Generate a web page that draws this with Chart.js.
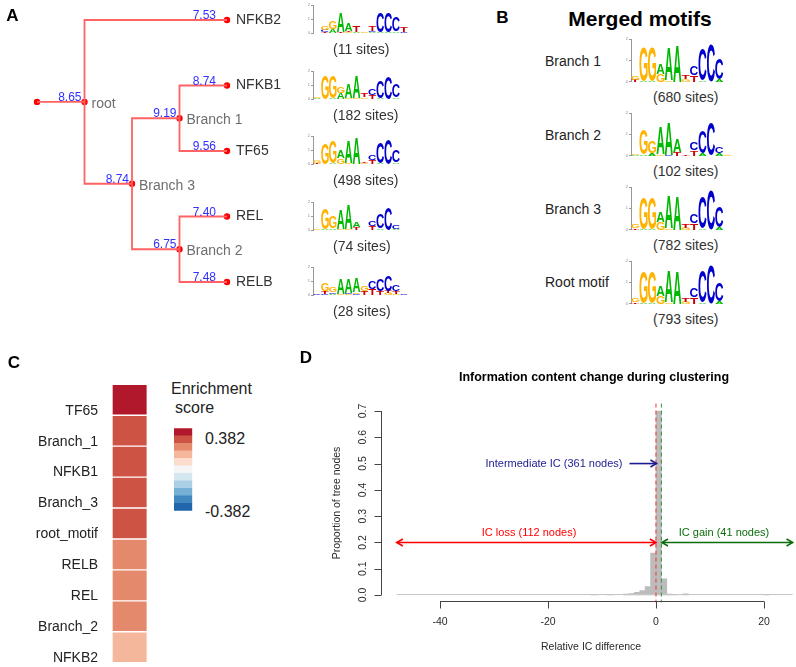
<!DOCTYPE html>
<html lang="en">
<head>
<meta charset="UTF-8">
<title>Motif clustering</title>
<script src="https://cdn.jsdelivr.net/npm/chart.js"></script>
<style>
    body { margin: 0; background: #fff; }
    #fig {
        position: relative;
        width: 796px;
        height: 667px;
        overflow: hidden;
        background: #fff;
        font-family: "Liberation Sans", Arial, sans-serif;
    }
    #fig canvas { position: absolute; }
    .txt {
        position: absolute;
        white-space: nowrap;
        line-height: 1;
        color: #222;
    }
</style>
</head>
<body>
<div id="fig"></div>

<script>
    // ---- data ----
    // A: motif tree
    var treeNodes  = ['origin', 'root', 'Branch 3', 'Branch 1', 'Branch 2', 'NFKB2', 'NFKB1', 'TF65', 'REL', 'RELB'];
    var treeParent = [-1, 0, 1, 2, 2, 1, 3, 3, 4, 4];
    var treeIC     = [null, 8.65, 8.74, 9.19, 6.75, 7.53, 8.74, 9.56, 7.40, 7.48];
    var leafOrder  = ['NFKB2', 'NFKB1', 'TF65', 'REL', 'RELB'];
    var leafSites  = [11, 182, 498, 74, 28];

    // sequence logos, bits per base at positions 1..12
    var logoNFKB2 = [{G:0.03}, {G:0.3, C:0.15, T:0.07}, {G:0.6, A:0.3}, {A:1.35, T:0.08}, {A:0.55, T:0.1, G:0.05}, {T:0.5, A:0.1},
                     {G:0.04}, {T:0.35, C:0.12, A:0.05}, {C:1.4, A:0.06}, {C:1.4, A:0.06}, {C:1.0, A:0.12}, {T:0.35, C:0.1}];
    var logoNFKB1 = [{G:0.12, A:0.05}, {G:1.65}, {G:1.55, A:0.06}, {G:0.5, A:0.45}, {A:1.05, G:0.1}, {A:1.6, G:0.08},
                     {T:0.3, G:0.12}, {C:0.42, T:0.3}, {C:1.25, A:0.05}, {C:1.6}, {C:0.95, A:0.1}, {G:0.03}];
    var logoTF65  = [{G:0.18, T:0.04}, {G:1.5}, {G:1.55, A:0.04}, {A:0.55, G:0.4}, {A:1.6, G:0.05}, {A:1.85},
                     {T:0.08, G:0.06}, {C:0.4, T:0.28}, {C:1.45, A:0.06}, {C:1.8}, {C:0.8, A:0.12}, {G:0.03}];
    var logoREL   = [{G:0.04}, {G:1.45, A:0.04}, {G:0.8, A:0.12}, {A:1.4, G:0.05}, {A:1.75, G:0.04}, {A:0.4, T:0.18},
                     {T:0.03}, {C:0.32, T:0.25}, {C:1.05, A:0.1}, {C:1.62}, {C:0.28, A:0.1}, {G:0.03}];
    var logoRELB  = [{C:0.04}, {G:0.55, T:0.2, C:0.1}, {G:0.4, C:0.1, A:0.1}, {A:1.1, G:0.1}, {A:1.05, C:0.1, G:0.05}, {A:1.0, C:0.1, G:0.1},
                     {G:0.35, T:0.3}, {C:0.6, T:0.45}, {C:0.85, T:0.3}, {C:1.1, T:0.15, G:0.15}, {C:0.5, T:0.2, G:0.1}, {C:0.1}];
    var leafLogos = [logoNFKB2, logoNFKB1, logoTF65, logoREL, logoRELB];

    // B: merged motifs
    var logoBranch1 = [{G:0.2, T:0.1}, {G:1.58, A:0.03}, {G:1.58, A:0.03}, {A:0.5, G:0.38}, {A:1.52, G:0.06}, {A:1.72},
                       {T:0.15, G:0.12}, {C:0.42, T:0.3}, {C:1.5, A:0.06}, {C:1.72}, {C:0.95, A:0.12}, {G:0.02}];
    var logoBranch2 = [{A:0.03, G:0.03}, {G:1.15, A:0.05}, {G:0.55, A:0.1}, {A:1.3, G:0.08}, {A:1.52, C:0.05}, {A:0.6, T:0.15},
                       {T:0.03}, {C:0.38, T:0.25}, {C:1.05, A:0.1}, {C:1.55}, {C:0.3, A:0.12}, {G:0.03}];
    var logoBranch3 = [{G:0.18, T:0.08}, {G:1.48, A:0.03}, {G:1.48, A:0.03}, {A:0.48, G:0.38}, {A:1.5, G:0.06}, {A:1.6},
                       {T:0.15, G:0.1}, {C:0.4, T:0.3}, {C:1.48, A:0.06}, {C:1.82}, {C:0.95, A:0.12}, {G:0.02}];
    var logoRoot    = [{G:0.18, T:0.08}, {G:1.48, A:0.03}, {G:1.48, A:0.03}, {A:0.48, G:0.38}, {A:1.48, G:0.06}, {A:1.54},
                       {T:0.15, G:0.1}, {C:0.4, T:0.3}, {C:1.45, A:0.06}, {C:1.78}, {C:0.88, A:0.12}, {G:0.02}];
    var mergedNames = ['Branch 1', 'Branch 2', 'Branch 3', 'Root motif'];
    var mergedSites = [680, 102, 782, 793];
    var mergedLogos = [logoBranch1, logoBranch2, logoBranch3, logoRoot];

    // C: enrichment heatmap
    var heatRows   = ['TF65', 'Branch_1', 'NFKB1', 'Branch_3', 'root_motif', 'RELB', 'REL', 'Branch_2', 'NFKB2'];
    var heatScores = [0.382, 0.30, 0.29, 0.28, 0.27, 0.22, 0.21, 0.20, 0.15];
    var heatLimit  = 0.382;
    var heatPalette = ['#b2182b', '#cd5344', '#e5896d', '#f5b79b', '#fbdccd', '#f5f5f5',
                       '#d5e7f1', '#abd0e5', '#76b1d5', '#3f89c0', '#2166ac'];

    // D: histogram of relative IC difference (bin centres, proportion of nodes)
    var histMids  = [-11.5, -8.5, -5.5, -4.5, -3.5, -2.5, -1.5, -0.5, 0.5, 1.5, 2.5, 3.5, 5.5, 20.5];
    var histProps = [0.002, 0.003, 0.004, 0.006, 0.010, 0.017, 0.032, 0.160, 0.700, 0.062, 0.004, 0.002, 0.005, 0.002];
    var histRange = [-48, 25.3];
    var icCutoffs = [0, 1];
    var icGroups  = ['IC loss (112 nodes)', 'Intermediate IC (361 nodes)', 'IC gain (41 nodes)'];
    var xTicks = [-40, -20, 0, 20];
    var yTicks = [0, 0.1, 0.2, 0.3, 0.4, 0.5, 0.6, 0.7];

    // ---- helpers ----
    var FONT = '"Liberation Sans", Arial, sans-serif';
    Chart.defaults.font.family = FONT;
    Chart.defaults.animation = false;
    Chart.defaults.plugins.legend.display = false;
    Chart.defaults.plugins.tooltip.enabled = false;

    var fig = document.getElementById('fig');

    function addCanvas(left, top, w, h) {
        var c = document.createElement('canvas');
        c.width = w;
        c.height = h;
        c.style.left = left + 'px';
        c.style.top = top + 'px';
        c.style.width = w + 'px';
        c.style.height = h + 'px';
        fig.appendChild(c);
        return c;
    }

    // x,y is the left edge / vertical centre, or the centre when centred
    function addText(text, x, y, size, css, centred) {
        var d = document.createElement('div');
        d.className = 'txt';
        d.textContent = text;
        d.style.left = x + 'px';
        d.style.top = y + 'px';
        d.style.fontSize = size + 'px';
        d.style.transform = centred ? 'translate(-50%,-50%)' : 'translate(0,-50%)';
        if (css) d.style.cssText += css;
        fig.appendChild(d);
        return d;
    }

    function font(size, bold) {
        return (bold ? 'bold ' : '') + size + 'px ' + FONT;
    }

    // keep a vertical axis from reserving room for half-labels
    function fixWidth(w) {
        return function (s) {
            s.width = w;
            s.paddingTop = 0;
            s.paddingBottom = 0;
        };
    }

    // ---- sequence logos ----
    var bases = ['A', 'C', 'G', 'T'];
    var baseColors = {A: '#00b800', C: '#0000cc', G: '#ffb300', T: '#cc0000'};
    var glyphCache = {};

    function glyphBox(ctx, ch) {
        if (!glyphCache[ch]) {
            ctx.save();
            ctx.font = font(100, true);
            var m = ctx.measureText(ch);
            glyphCache[ch] = {
                left: m.actualBoundingBoxLeft, w: m.actualBoundingBoxLeft + m.actualBoundingBoxRight,
                asc: m.actualBoundingBoxAscent, h: m.actualBoundingBoxAscent + m.actualBoundingBoxDescent
            };
            ctx.restore();
        }
        return glyphCache[ch];
    }

    function drawGlyph(ctx, ch, x, y, w, h, color) {
        if (h < 0.4) return;
        var g = glyphBox(ctx, ch);
        ctx.save();
        ctx.translate(x, y);
        ctx.scale(w / g.w, h / g.h);
        ctx.font = font(100, true);
        ctx.fillStyle = color;
        ctx.textBaseline = 'alphabetic';
        ctx.fillText(ch, g.left, g.asc);
        ctx.restore();
    }

    var logoLetters = {
        id: 'logoLetters',
        afterDatasetsDraw: function (chart) {
            var ctx = chart.ctx, y = chart.scales.y;
            var bars = chart.getDatasetMeta(0).data;
            for (var i = 0; i < chart.data.labels.length; i++) {
                var stack = bases.map(function (b, k) { return {b: b, h: chart.data.datasets[k].data[i]}; })
                    .filter(function (s) { return s.h > 0; })
                    .sort(function (p, q) { return p.h - q.h; });
                var w = bars[i].width, left = bars[i].x - w / 2, cum = 0;
                stack.forEach(function (s) {
                    var yb = y.getPixelForValue(cum), yt = y.getPixelForValue(cum + s.h);
                    drawGlyph(ctx, s.b, left, yt, w, yb - yt, baseColors[s.b]);
                    cum += s.h;
                });
            }
        }
    };

    function createLogo(canvas, columns, axisWidth, pad) {
        return new Chart(canvas, {
            type: 'bar',
            data: {
                labels: columns.map(function (c, i) { return String(i + 1); }),
                datasets: bases.map(function (b) {
                    return {
                        label: b,
                        data: columns.map(function (c) { return c[b] || 0; }),
                        backgroundColor: 'rgba(0,0,0,0)',
                        barPercentage: 0.96,
                        categoryPercentage: 1
                    };
                })
            },
            options: {
                responsive: false,
                devicePixelRatio: 1,
                layout: {padding: pad},
                scales: {
                    x: {stacked: true, display: false},
                    y: {
                        stacked: true, min: 0, max: 2,
                        afterFit: fixWidth(axisWidth),
                        ticks: {stepSize: 1, padding: 1, color: '#888', font: {size: 4}},
                        grid: {drawOnChartArea: false, tickLength: 2, color: '#999'},
                        border: {color: '#999'}
                    }
                }
            },
            plugins: [logoLetters]
        });
    }

    // ---- A: tree ----
    var nNodes = treeNodes.length;
    var children = treeNodes.map(function () { return []; });
    treeParent.forEach(function (p, i) { if (p >= 0) children[p].push(i); });
    var depth = treeParent.map(function () { return 0; });
    for (var i = 1; i < nNodes; i++) depth[i] = depth[treeParent[i]] + 1;
    var maxDepth = Math.max.apply(null, depth);
    function nodeRow(i) {
        if (!children[i].length) return leafOrder.indexOf(treeNodes[i]);
        var rows = children[i].map(nodeRow);
        return rows.reduce(function (a, b) { return a + b; }, 0) / rows.length;
    }
    var nodeX = treeNodes.map(function (n, i) { return children[i].length ? depth[i] : maxDepth; });
    var nodeY = treeNodes.map(function (n, i) { return nodeRow(i); });

    var edgeSets = [];
    for (var i = 1; i < nNodes; i++) {
        var p = treeParent[i];
        edgeSets.push({
            data: [{x: nodeX[p], y: nodeY[p]}, {x: nodeX[p], y: nodeY[i]}, {x: nodeX[i], y: nodeY[i]}],
            showLine: true, borderColor: '#ff6262', borderWidth: 1.8, pointRadius: 0, clip: false
        });
    }
    edgeSets.push({
        data: treeNodes.map(function (n, i) { return {x: nodeX[i], y: nodeY[i]}; }),
        pointRadius: 3.2, pointBackgroundColor: '#ff0000', pointBorderWidth: 0, clip: false
    });

    var treeLabels = {
        id: 'treeLabels',
        afterDatasetsDraw: function (chart) {
            var ctx = chart.ctx, sx = chart.scales.x, sy = chart.scales.y;
            ctx.save();
            for (var i = 1; i < nNodes; i++) {
                var leaf = !children[i].length;
                var px = sx.getPixelForValue(nodeX[i]), py = sy.getPixelForValue(nodeY[i]);
                ctx.font = font(14);
                ctx.textBaseline = 'middle';
                ctx.textAlign = 'left';
                ctx.fillStyle = leaf ? '#333' : '#6e6e6e';
                ctx.fillText(treeNodes[i], px + (leaf ? 9 : 7), py + (leaf ? 0 : 2));
                ctx.font = font(12);
                ctx.textAlign = 'right';
                ctx.textBaseline = 'alphabetic';
                ctx.fillStyle = '#3030ff';
                ctx.fillText(treeIC[i].toFixed(2), px - (leaf ? 11 : 3), py - 1);
            }
            ctx.restore();
        }
    };

    new Chart(addCanvas(0, 0, 300, 320), {
        type: 'scatter',
        data: {datasets: edgeSets},
        options: {
            responsive: false,
            devicePixelRatio: 1,
            layout: {padding: {left: 37, right: 73, top: 20, bottom: 38}},
            scales: {
                x: {display: false, min: 0, max: maxDepth},
                y: {display: false, min: 0, max: leafOrder.length - 1, reverse: true}
            }
        },
        plugins: [treeLabels]
    });

    // logos next to the leaves
    leafOrder.forEach(function (name, k) {
        var top = Math.round(65.5 * k);
        createLogo(addCanvas(298, top, 114, 36), leafLogos[k], 15, {top: 5, bottom: 3, right: 4, left: 0});
        addText('(' + leafSites[k] + ' sites)', 333, 49 + 65.5 * k, 14, 'color:#333');
    });

    // ---- B: merged motifs ----
    addText('Merged motifs', 640, 18, 21, 'font-weight:bold;color:#000', true);
    var mergedZero = [82, 156, 230, 303.5];
    mergedNames.forEach(function (name, k) {
        var top = Math.round(mergedZero[k] - 47.7);
        createLogo(addCanvas(613, top, 122, 50), mergedLogos[k], 18, {top: 5, bottom: 2.3, right: 3, left: 0});
        addText(name, 545, mergedZero[k] - 21.5, 14, 'color:#222');
        addText('(' + mergedSites[k] + ' sites)', 653, mergedZero[k] + 15, 14, 'color:#333');
    });

    // ---- C: enrichment heatmap ----
    var bandWidth = 2 * heatLimit / heatPalette.length;
    function scoreColor(v) {
        var k = Math.floor((heatLimit - v) / bandWidth + 1e-9);
        return heatPalette[Math.max(0, Math.min(heatPalette.length - 1, k))];
    }

    new Chart(addCanvas(0, 370, 160, 297), {
        type: 'bar',
        data: {
            labels: heatRows,
            datasets: [{
                data: heatRows.map(function () { return 1; }),
                backgroundColor: heatScores.map(scoreColor),
                borderColor: 'rgba(255,255,255,0.45)',
                borderWidth: 1,
                borderSkipped: false,
                barPercentage: 1,
                categoryPercentage: 1
            }]
        },
        options: {
            indexAxis: 'y',
            responsive: false,
            devicePixelRatio: 1,
            layout: {padding: {top: 14.3, bottom: 4.3, right: 12.7, left: 0}},
            scales: {
                x: {display: false, min: 0, max: 1},
                y: {
                    afterFit: fixWidth(112),
                    grid: {display: false, drawTicks: false},
                    border: {display: false},
                    ticks: {padding: 14, labelOffset: 11, color: '#222', font: {size: 14}}
                }
            }
        }
    });

    // colour key
    new Chart(addCanvas(165, 420, 40, 100), {
        type: 'bar',
        data: {
            labels: ['score'],
            datasets: heatPalette.slice().reverse().map(function (c) {
                return {data: [1], backgroundColor: c, barPercentage: 1, categoryPercentage: 1};
            })
        },
        options: {
            responsive: false,
            devicePixelRatio: 1,
            layout: {padding: {left: 9, right: 12.7, top: 8.3, bottom: 9.3}},
            scales: {
                x: {display: false, stacked: true},
                y: {display: false, stacked: true, min: 0, max: heatPalette.length}
            }
        }
    });
    addText('Enrichment', 171, 389, 16, 'color:#222');
    addText('score', 175, 408, 16, 'color:#222');
    addText(heatLimit.toFixed(3), 205, 439, 16, 'color:#222');
    addText((-heatLimit).toFixed(3), 205, 511.5, 16, 'color:#222');

    // ---- D: IC change histogram ----
    function arrowHead(ctx, x0, y0, x1, y1, len) {
        var ang = Math.atan2(y1 - y0, x1 - x0);
        ctx.beginPath();
        ctx.moveTo(x1 - len * Math.cos(ang - Math.PI / 6), y1 - len * Math.sin(ang - Math.PI / 6));
        ctx.lineTo(x1, y1);
        ctx.lineTo(x1 - len * Math.cos(ang + Math.PI / 6), y1 - len * Math.sin(ang + Math.PI / 6));
        ctx.stroke();
    }
    function arrow(ctx, x0, y0, x1, y1, both) {
        ctx.beginPath();
        ctx.moveTo(x0, y0);
        ctx.lineTo(x1, y1);
        ctx.stroke();
        arrowHead(ctx, x0, y0, x1, y1, 7);
        if (both) arrowHead(ctx, x1, y1, x0, y0, 7);
    }

    var icDecor = {
        id: 'icDecor',
        afterDatasetsDraw: function (chart) {
            var ctx = chart.ctx, a = chart.chartArea, x = chart.scales.x, y = chart.scales.y;
            ctx.save();

            // empty bins show as a thin grey floor
            ctx.strokeStyle = '#c6c6c6';
            ctx.lineWidth = 1;
            ctx.beginPath();
            ctx.moveTo(x.getPixelForValue(histRange[0]), y.getPixelForValue(0) - 0.5);
            ctx.lineTo(x.getPixelForValue(histRange[1]), y.getPixelForValue(0) - 0.5);
            ctx.stroke();

            // cut-off lines
            ctx.setLineDash([4, 3]);
            [['#ff3030', icCutoffs[0]], ['#3a8a3a', icCutoffs[1]]].forEach(function (d) {
                var px = x.getPixelForValue(d[1]);
                ctx.strokeStyle = d[0];
                ctx.beginPath();
                ctx.moveTo(px, a.top);
                ctx.lineTo(px, a.bottom);
                ctx.stroke();
            });
            ctx.setLineDash([]);

            // group arrows and labels
            ctx.lineWidth = 1.6;
            ctx.font = font(11);
            ctx.textBaseline = 'middle';
            ctx.textAlign = 'center';
            var ya = y.getPixelForValue(0.2), yt = y.getPixelForValue(0.236);

            ctx.strokeStyle = ctx.fillStyle = '#ff0000';
            arrow(ctx, x.getPixelForValue(histRange[0]), ya, x.getPixelForValue(icCutoffs[0]), ya, true);
            ctx.fillText(icGroups[0], x.getPixelForValue(-23.5), yt);

            ctx.strokeStyle = ctx.fillStyle = '#0b6e0b';
            arrow(ctx, x.getPixelForValue(histRange[1]), ya, x.getPixelForValue(icCutoffs[1] + 0.1), ya, true);
            ctx.fillText(icGroups[2], x.getPixelForValue(12.6), yt);

            var yb = y.getPixelForValue(0.5);
            ctx.strokeStyle = ctx.fillStyle = '#1c1c90';
            arrow(ctx, x.getPixelForValue(-4.9), yb, x.getPixelForValue(0.1), yb, false);
            ctx.textAlign = 'right';
            ctx.fillText(icGroups[1], x.getPixelForValue(-6.2), yb);

            // R-style axes
            ctx.strokeStyle = '#444';
            ctx.fillStyle = '#2a2a2a';
            ctx.lineWidth = 1;
            ctx.font = font(10.5);
            var x0 = Math.round(a.left) + 0.5;
            ctx.beginPath();
            ctx.moveTo(x0, y.getPixelForValue(yTicks[0]));
            ctx.lineTo(x0, y.getPixelForValue(yTicks[yTicks.length - 1]));
            yTicks.forEach(function (v) {
                var py = Math.round(y.getPixelForValue(v)) + 0.5;
                ctx.moveTo(x0, py);
                ctx.lineTo(x0 - 7, py);
            });
            ctx.stroke();
            ctx.textAlign = 'center';
            ctx.textBaseline = 'middle';
            yTicks.forEach(function (v) {
                ctx.save();
                ctx.translate(a.left - 18, y.getPixelForValue(v));
                ctx.rotate(-Math.PI / 2);
                ctx.fillText(v.toFixed(1), 0, 0);
                ctx.restore();
            });

            var y0 = Math.round(a.bottom) - 0.5;
            ctx.beginPath();
            ctx.moveTo(x.getPixelForValue(xTicks[0]), y0);
            ctx.lineTo(x.getPixelForValue(xTicks[xTicks.length - 1]), y0);
            xTicks.forEach(function (v) {
                var px = Math.round(x.getPixelForValue(v)) + 0.5;
                ctx.moveTo(px, y0);
                ctx.lineTo(px, y0 + 7);
            });
            ctx.stroke();
            xTicks.forEach(function (v) {
                ctx.fillText(String(v), x.getPixelForValue(v), a.bottom + 20);
            });

            // titles
            ctx.fillText('Relative IC difference', (a.left + x.getPixelForValue(26.9)) / 2, a.bottom + 45);
            ctx.save();
            ctx.translate(a.left - 44, y.getPixelForValue(0.35));
            ctx.rotate(-Math.PI / 2);
            ctx.fillText('Proportion of tree nodes', 0, 0);
            ctx.restore();
            ctx.fillStyle = '#000';
            ctx.font = font(12.5, true);
            ctx.fillText('Information content change during clustering', 294, a.top - 26);
            ctx.restore();
        }
    };

    new Chart(addCanvas(300, 340, 496, 327), {
        type: 'bar',
        data: {
            datasets: [{
                data: histMids.map(function (m, i) { return {x: m, y: histProps[i]}; }),
                backgroundColor: '#bcbcbc',
                borderWidth: 0,
                barPercentage: 1,
                categoryPercentage: 1
            }]
        },
        options: {
            responsive: false,
            devicePixelRatio: 1,
            layout: {padding: {left: 81, right: 0, top: 63.6, bottom: 64.6}},
            scales: {
                x: {type: 'linear', display: false, offset: false, min: -50.92, max: 25.93},
                y: {display: false, min: -0.028, max: 0.728}
            }
        },
        plugins: [icDecor]
    });

    // panel letters
    addText('A', 12.5, 15, 17, 'font-weight:bold;color:#000', true);
    addText('B', 502.5, 17, 17, 'font-weight:bold;color:#000', true);
    addText('C', 14, 362, 17, 'font-weight:bold;color:#000', true);
    addText('D', 306, 357, 17, 'font-weight:bold;color:#000', true);
</script>
</body>
</html>
